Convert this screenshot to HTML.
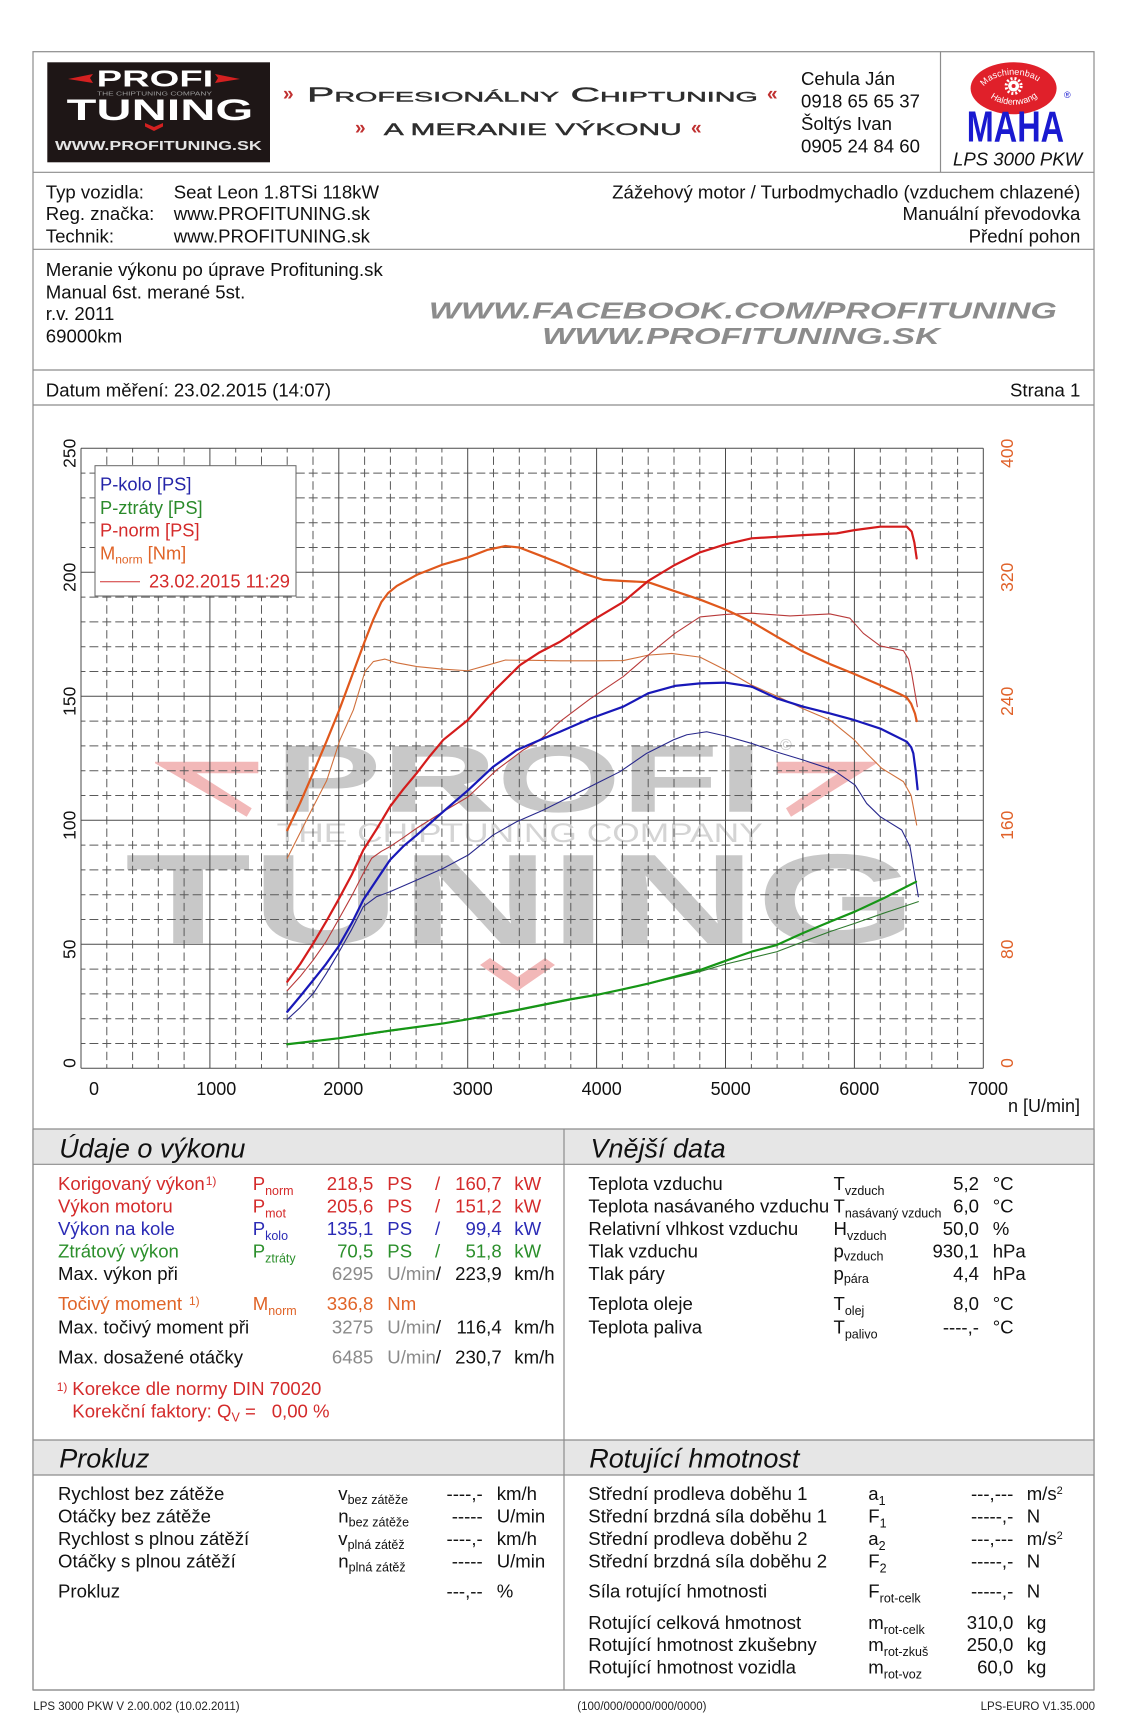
<!DOCTYPE html>
<html><head><meta charset="utf-8">
<style>
html,body{margin:0;padding:0;background:#fff;}
svg{display:block;}
text{font-family:"Liberation Sans",Arial,sans-serif;}
.t{font-size:18.6px;fill:#111;}
.ttl{font-size:27px;font-style:italic;fill:#111;}
.sub{font-size:12.5px;}
.ft{font-size:11.5px;fill:#222;}
</style></head>
<body>
<svg width="1130" height="1725" viewBox="0 0 1130 1725" xmlns="http://www.w3.org/2000/svg">
<rect x="0" y="0" width="1130" height="1725" fill="#fff"/>

<!-- ===== frame & section lines ===== -->
<g stroke="#8c8c8c" stroke-width="1.2" fill="none">
<rect x="33" y="51.7" width="1061" height="1638.3"/>
<line x1="33" y1="172.3" x2="1094" y2="172.3"/>
<line x1="33" y1="249.3" x2="1094" y2="249.3"/>
<line x1="33" y1="370" x2="1094" y2="370"/>
<line x1="33" y1="405" x2="1094" y2="405"/>
<line x1="940.5" y1="51.7" x2="940.5" y2="172.3"/>
</g>
<!-- section bands -->
<rect x="33" y="1129" width="1061" height="35.3" fill="#e6e6e6"/>
<rect x="33" y="1440" width="1061" height="35" fill="#e6e6e6"/>
<g stroke="#8c8c8c" stroke-width="1.2" fill="none">
<line x1="33" y1="1129" x2="1094" y2="1129"/>
<line x1="33" y1="1164.3" x2="1094" y2="1164.3"/>
<line x1="33" y1="1440" x2="1094" y2="1440"/>
<line x1="33" y1="1475" x2="1094" y2="1475"/>
<line x1="564" y1="1129" x2="564" y2="1690"/>
<line x1="33" y1="1690" x2="1094" y2="1690"/>
<line x1="33" y1="1129" x2="33" y2="1690"/>
<line x1="1094" y1="1129" x2="1094" y2="1690"/>
</g>

<!-- ===== header logo ===== -->
<rect x="47.3" y="62.3" width="222.7" height="100" fill="#1e1616"/>
<polygon points="68,79 93,74 90,78 93,83" fill="#d42020"/>
<polygon points="240,79 215,74 218,78 215,83" fill="#d42020"/>
<text x="96.7" y="86.7" font-size="23" font-weight="bold" fill="#fff" textLength="116.6" lengthAdjust="spacingAndGlyphs">PROFI</text>
<text x="97" y="95.5" font-size="5.5" fill="#9a9a9a" textLength="115" lengthAdjust="spacingAndGlyphs">THE CHIPTUNING COMPANY</text>
<text x="66.7" y="120" font-size="30" font-weight="bold" fill="#fff" textLength="186.6" lengthAdjust="spacingAndGlyphs">TUNING</text>
<polygon points="145,123 154,127 163,123 163,126.5 154,131 145,126.5" fill="#d42020"/>
<text x="55" y="150" font-size="12.5" font-weight="bold" fill="#e4e4e4" textLength="206.7" lengthAdjust="spacingAndGlyphs">WWW.PROFITUNING.SK</text>

<!-- header slogan -->
<text x="283" y="100" font-size="19" font-weight="bold" fill="#c03030">»</text>
<text x="307" y="101.7" font-size="20" fill="#2e2e2e" stroke="#2e2e2e" stroke-width="0.4" style="font-variant:small-caps" textLength="450.8" lengthAdjust="spacingAndGlyphs">Profesionálny Chiptuning</text>
<text x="767" y="100" font-size="19" font-weight="bold" fill="#c03030">«</text>
<text x="355" y="134" font-size="19" font-weight="bold" fill="#c03030">»</text>
<text x="383.8" y="135" font-size="17" fill="#2e2e2e" stroke="#2e2e2e" stroke-width="0.4" textLength="298" lengthAdjust="spacingAndGlyphs">A MERANIE VÝKONU</text>
<text x="691" y="134" font-size="19" font-weight="bold" fill="#c03030">«</text>

<!-- contact -->
<text class="t" x="801" y="85">Cehula Ján</text>
<text class="t" x="801" y="107.3">0918 65 65 37</text>
<text class="t" x="801" y="130">Šoltýs Ivan</text>
<text class="t" x="801" y="152.3">0905 24 84 60</text>

<!-- MAHA logo -->
<ellipse cx="1013.6" cy="88.3" rx="43" ry="26" fill="#e0202a"/>
<defs>
<path id="arcTop" d="M 981,92 A 33 21 0 0 1 1046,92"/>
<path id="arcBot" d="M 985,90 A 29 18 0 0 0 1042,90"/>
</defs>
<text font-size="9" fill="#fff"><textPath href="#arcTop" startOffset="8%">Maschinenbau</textPath></text>
<text font-size="9" fill="#fff"><textPath href="#arcBot" startOffset="14%">Haldenwang</textPath></text>
<circle cx="1013.6" cy="86" r="5.5" fill="#fff"/>
<circle cx="1013.6" cy="86" r="7.5" fill="none" stroke="#fff" stroke-width="3" stroke-dasharray="2 2"/>
<circle cx="1013.6" cy="86" r="2" fill="#e0202a"/>
<text x="966.8" y="141.7" font-size="44" font-weight="bold" fill="#1a1ad0" textLength="97.2" lengthAdjust="spacingAndGlyphs">MAHA</text>
<text x="1064" y="98" font-size="9" fill="#1a1ad0">®</text>
<text class="t" x="953" y="165.7" font-style="italic">LPS 3000 PKW</text>

<!-- vehicle info -->
<text class="t" x="45.8" y="198.3">Typ vozidla:</text>
<text class="t" x="173.7" y="198.3">Seat Leon 1.8TSi 118kW</text>
<text class="t" x="45.8" y="220">Reg. značka:</text>
<text class="t" x="173.7" y="220">www.PROFITUNING.sk</text>
<text class="t" x="45.8" y="242.3">Technik:</text>
<text class="t" x="173.7" y="242.3">www.PROFITUNING.sk</text>
<text class="t" x="1080.3" y="198.3" text-anchor="end">Zážehový motor / Turbodmychadlo (vzduchem chlazené)</text>
<text class="t" x="1080.3" y="220" text-anchor="end">Manuální převodovka</text>
<text class="t" x="1080.3" y="242.3" text-anchor="end">Přední pohon</text>

<!-- notes -->
<text class="t" x="45.8" y="276">Meranie výkonu po úprave Profituning.sk</text>
<text class="t" x="45.8" y="298.3">Manual 6st. merané 5st.</text>
<text class="t" x="45.8" y="320">r.v. 2011</text>
<text class="t" x="45.8" y="342.3">69000km</text>
<text x="428.8" y="318.3" font-size="23" font-weight="bold" font-style="italic" fill="#8c8c8c" textLength="628" lengthAdjust="spacingAndGlyphs">WWW.FACEBOOK.COM/PROFITUNING</text>
<text x="542" y="344" font-size="23" font-weight="bold" font-style="italic" fill="#8c8c8c" textLength="397.8" lengthAdjust="spacingAndGlyphs">WWW.PROFITUNING.SK</text>

<!-- datum -->
<text class="t" x="45.8" y="396.7">Datum měření: 23.02.2015 (14:07)</text>
<text class="t" x="1080.3" y="396.7" text-anchor="end">Strana 1</text>

<!-- ===== CHART ===== -->
<!-- watermark -->
<g>
<text x="275" y="811.7" font-size="95.5" font-weight="bold" fill="#c8c8c8" textLength="488" lengthAdjust="spacingAndGlyphs">PROFI</text>
<text x="780" y="750" font-size="16" fill="#c8c8c8">©</text>
<text x="276.7" y="842" font-size="26.5" fill="#d4d4d4" textLength="486" lengthAdjust="spacingAndGlyphs">THE CHIPTUNING COMPANY</text>
<text x="125" y="943.3" font-size="128" font-weight="bold" fill="#c8c8c8" textLength="792" lengthAdjust="spacingAndGlyphs">TUNING</text>
<polygon points="155,761.7 258.3,761.7 258.3,773.3 196.7,773.3 251.7,808.3 246.7,816.7 155,763.3" fill="#f2b8b8"/>
<polygon points="876.7,761.7 776.7,761.7 776.7,773.3 838,773.3 786,808.3 791,816.7 876.7,763.3" fill="#f2b8b8"/>
<polygon points="480,965 490,958 517.5,977 545,958 555,965 517.5,991" fill="#f2b8b8"/>
</g>

<!-- grid minor vertical (every 200 rpm) -->
<g stroke="#5a5a5a" stroke-width="1" stroke-dasharray="8.4 4" stroke-dashoffset="4.2" fill="none">
<path d="M106.8,448.3V1068.3M132.6,448.3V1068.3M158.3,448.3V1068.3M184.1,448.3V1068.3
M235.7,448.3V1068.3M261.5,448.3V1068.3M287.2,448.3V1068.3M313,448.3V1068.3
M364.6,448.3V1068.3M390.4,448.3V1068.3M416.1,448.3V1068.3M441.9,448.3V1068.3
M493.5,448.3V1068.3M519.3,448.3V1068.3M545.1,448.3V1068.3M570.8,448.3V1068.3
M622.4,448.3V1068.3M648.2,448.3V1068.3M674,448.3V1068.3M699.8,448.3V1068.3
M751.4,448.3V1068.3M777.1,448.3V1068.3M802.9,448.3V1068.3M828.7,448.3V1068.3
M880.3,448.3V1068.3M906,448.3V1068.3M931.8,448.3V1068.3M957.6,448.3V1068.3"/>
</g>
<!-- grid minor horizontal (every 10 PS) -->
<g stroke="#5a5a5a" stroke-width="1" stroke-dasharray="8.9 4" stroke-dashoffset="4.45" fill="none">
<path d="M81,1043.5H983.3M81,1018.7H983.3M81,993.9H983.3M81,969.1H983.3
M81,919.5H983.3M81,894.7H983.3M81,869.9H983.3M81,845.1H983.3
M81,795.5H983.3M81,770.7H983.3M81,745.9H983.3M81,721.1H983.3
M81,671.5H983.3M81,646.7H983.3M81,621.9H983.3M81,597.1H983.3
M81,547.5H983.3M81,522.7H983.3M81,497.9H983.3M81,473.1H983.3"/>
</g>
<!-- grid major -->
<g stroke="#4a4a4a" stroke-width="1" fill="none">
<path d="M81,448.3V1068.3M209.9,448.3V1068.3M338.8,448.3V1068.3M467.7,448.3V1068.3M596.6,448.3V1068.3M725.5,448.3V1068.3M854.4,448.3V1068.3M983.3,448.3V1068.3"/>
<path d="M81,448.3H983.3M81,572.3H983.3M81,696.3H983.3M81,820.3H983.3M81,944.3H983.3M81,1068.3H983.3"/>
</g>

<!-- curves -->
<g transform="matrix(0.128904 0 0 -2.48 81 1068.3)" fill="none" stroke-linejoin="round" stroke-linecap="round">
<!-- thin (comparison) -->
<polyline vector-effect="non-scaling-stroke" stroke="#d0703c" stroke-width="1.1" points="1600,84.7 1700,95 1802,105.5 1906,116 2009,132.4 2113,144.5 2203,160 2268,164 2358,165 2450,163.5 2606,162 2800,161 3000,160.3 3150,162.5 3290,164.6 3500,164.5 3716,164.3 4000,164.3 4206,164.4 4400,166.6 4582,167.3 4802,165.8 5000,160.6 5203,154.5 5400,150 5602,145 5810,140.4 6000,132.4 6095,127 6211,121 6380,115.6 6440,110 6483,98.1"/>
<polyline vector-effect="non-scaling-stroke" stroke="#b83a3a" stroke-width="1.1" points="1600,31.3 1700,37 1802,43.7 1900,51 1996,59.8 2100,69.5 2190,78.6 2255,84.7 2330,87.5 2397,89.4 2500,93 2604,96.8 2810,103.5 3004,109.5 3224,120.3 3430,128.3 3560,132.4 3716,139.8 3950,149 4206,157.9 4400,166.6 4608,175.4 4802,182 5000,183 5203,183.5 5500,182.4 5810,183.2 5965,181.5 6069,175.4 6200,170.3 6380,168.4 6420,165 6444,159.3 6488,145.8"/>
<polyline vector-effect="non-scaling-stroke" stroke="#28288c" stroke-width="1.1" points="1600,19.7 1700,24.5 1802,30.2 1900,38 1996,46.4 2100,56 2190,65.2 2293,69.2 2397,71.2 2604,75.9 2810,80.6 3004,86 3198,94.1 3379,99.4 3586,104.1 3793,109.5 4000,114.9 4181,119.6 4388,127 4594,132.4 4700,134.5 4854,135.7 5000,134 5203,131 5400,127.5 5602,124.3 5836,120.3 6005,114.2 6095,106.8 6199,101.5 6367,96.1 6431,89.4 6496,69.2"/>
<polyline vector-effect="non-scaling-stroke" stroke="#2f7a2f" stroke-width="1.1" points="1600,9.7 2000,12 2400,15 2800,18 3000,19.6 3400,23.4 3800,27.6 4200,31.7 4600,36.5 4802,39 5000,42 5200,44.5 5397,47 5600,51 5810,55.1 6005,58.5 6224,62.5 6496,67.2"/>
<!-- thick (current) -->
<polyline vector-effect="non-scaling-stroke" stroke="#e0581c" stroke-width="2.2" points="1600,96 1700,107 1800,119 1906,132 2000,144 2100,158 2200,172 2268,181 2330,188 2382,191.6 2450,194.5 2606,199 2800,203 3000,206 3150,209 3290,210.6 3400,210 3550,207 3716,203.6 3900,199.5 4050,197 4206,196.5 4400,196 4600,192.5 4802,189 5000,185 5203,180 5400,174 5602,168 5810,163 6000,159 6200,154.5 6350,151 6406,149.5 6440,147 6470,143 6483,140"/>
<polyline vector-effect="non-scaling-stroke" stroke="#d41c1c" stroke-width="2.2" points="1600,34.9 1700,42 1802,50.4 1900,59 1996,67.9 2100,78 2190,88 2300,97 2397,105.5 2500,112.5 2604,119 2700,125.5 2810,132.4 3000,140.4 3200,152 3406,162.6 3550,167.5 3716,172 3974,180.8 4206,188 4400,196.5 4608,203 4800,208 5000,211.3 5203,213.7 5400,214.3 5602,215 5862,215.7 6000,217 6200,218.4 6406,218.4 6444,216.4 6465,212 6483,205.6"/>
<polyline vector-effect="non-scaling-stroke" stroke="#1818b8" stroke-width="2.2" points="1600,22.8 1700,29 1802,35.6 1900,42 1996,49 2100,58.5 2190,67.9 2300,76.5 2397,84 2500,89.5 2604,94 2810,103.5 3004,112.2 3198,121.6 3379,128.3 3560,132.4 3716,135.7 3950,141 4206,145.8 4400,151.2 4608,154.2 4802,155.2 5000,155.5 5203,153.9 5396,149.2 5602,145.8 5810,143.1 6000,140.4 6200,137 6406,131.7 6440,129.5 6457,127 6475,120 6490,112.5"/>
<polyline vector-effect="non-scaling-stroke" stroke="#169616" stroke-width="2.2" points="1600,9.7 1996,12.1 2397,15.2 2810,18.1 3004,19.8 3379,23.5 3793,27.8 4000,29.6 4181,31.6 4414,34.3 4802,39.6 5009,43.5 5200,47 5397,49.7 5600,54.5 5810,59.1 6005,63.2 6224,68.5 6478,75.2"/>
</g>

<!-- legend -->
<rect x="95" y="465.7" width="201" height="130.3" fill="#fff" stroke="#666" stroke-width="1"/>
<text x="100" y="490.7" font-size="18.3" fill="#2424a8">P-kolo [PS]</text>
<text x="100" y="514" font-size="18.3" fill="#2a8a2a">P-ztráty [PS]</text>
<text x="100" y="536.7" font-size="18.3" fill="#d42a2a">P-norm [PS]</text>
<text x="100" y="559.3" font-size="18.3" fill="#e06428">M<tspan font-size="12" dy="4">norm</tspan><tspan dy="-4"> [Nm]</tspan></text>
<line x1="100" y1="581.7" x2="140" y2="581.7" stroke="#d03030" stroke-width="1"/>
<text x="149" y="587.7" font-size="18.3" fill="#d42a2a">23.02.2015 11:29</text>

<!-- axis labels left -->
<g font-size="17.5" fill="#111" text-anchor="middle">
<text transform="translate(75.6,1063) rotate(-90)">0</text>
<text transform="translate(75.6,949.3) rotate(-90)">50</text>
<text transform="translate(75.6,825.3) rotate(-90)">100</text>
<text transform="translate(75.6,701.3) rotate(-90)">150</text>
<text transform="translate(75.6,577.3) rotate(-90)">200</text>
<text transform="translate(75.6,453.3) rotate(-90)">250</text>
</g>
<g font-size="17.5" fill="#e0622a" text-anchor="middle">
<text transform="translate(1013,1063) rotate(-90)">0</text>
<text transform="translate(1013,949.3) rotate(-90)">80</text>
<text transform="translate(1013,825.3) rotate(-90)">160</text>
<text transform="translate(1013,701.3) rotate(-90)">240</text>
<text transform="translate(1013,577.3) rotate(-90)">320</text>
<text transform="translate(1013,453.3) rotate(-90)">400</text>
</g>
<g font-size="18" fill="#111" text-anchor="middle">
<text x="94" y="1095">0</text>
<text x="216.3" y="1095">1000</text>
<text x="343.3" y="1095">2000</text>
<text x="472.7" y="1095">3000</text>
<text x="601.7" y="1095">4000</text>
<text x="730.7" y="1095">5000</text>
<text x="859.3" y="1095">6000</text>
<text x="988" y="1095">7000</text>
</g>
<text x="1008" y="1112" font-size="18" fill="#111">n [U/min]</text>

<!-- ===== Údaje o výkonu ===== -->
<text class="ttl" x="59.3" y="1157.3">Údaje o výkonu</text>
<g font-size="18.6">
<text x="58" y="1190" fill="#d42b2b">Korigovaný výkon</text>
<text x="205.7" y="1185" font-size="12" fill="#d42b2b">1)</text>
<text x="252.7" y="1190" fill="#d42b2b">P<tspan class="sub" dy="5">norm</tspan></text>
<text x="373.3" y="1190" fill="#d42b2b" text-anchor="end">218,5</text>
<text x="387.3" y="1190" fill="#d42b2b">PS</text>
<text x="435" y="1190" fill="#d42b2b">/</text>
<text x="501.7" y="1190" fill="#d42b2b" text-anchor="end">160,7</text>
<text x="514.3" y="1190" fill="#d42b2b">kW</text>

<text x="58" y="1212.5" fill="#d42b2b">Výkon motoru</text>
<text x="252.7" y="1212.5" fill="#d42b2b">P<tspan class="sub" dy="5">mot</tspan></text>
<text x="373.3" y="1212.5" fill="#d42b2b" text-anchor="end">205,6</text>
<text x="387.3" y="1212.5" fill="#d42b2b">PS</text>
<text x="435" y="1212.5" fill="#d42b2b">/</text>
<text x="501.7" y="1212.5" fill="#d42b2b" text-anchor="end">151,2</text>
<text x="514.3" y="1212.5" fill="#d42b2b">kW</text>

<text x="58" y="1235" fill="#2b2bb5">Výkon na kole</text>
<text x="252.7" y="1235" fill="#2b2bb5">P<tspan class="sub" dy="5">kolo</tspan></text>
<text x="373.3" y="1235" fill="#2b2bb5" text-anchor="end">135,1</text>
<text x="387.3" y="1235" fill="#2b2bb5">PS</text>
<text x="435" y="1235" fill="#2b2bb5">/</text>
<text x="501.7" y="1235" fill="#2b2bb5" text-anchor="end">99,4</text>
<text x="514.3" y="1235" fill="#2b2bb5">kW</text>

<text x="58" y="1257.5" fill="#2b8f2b">Ztrátový výkon</text>
<text x="252.7" y="1257.5" fill="#2b8f2b">P<tspan class="sub" dy="5">ztráty</tspan></text>
<text x="373.3" y="1257.5" fill="#2b8f2b" text-anchor="end">70,5</text>
<text x="387.3" y="1257.5" fill="#2b8f2b">PS</text>
<text x="435" y="1257.5" fill="#2b8f2b">/</text>
<text x="501.7" y="1257.5" fill="#2b8f2b" text-anchor="end">51,8</text>
<text x="514.3" y="1257.5" fill="#2b8f2b">kW</text>

<text x="58" y="1280" fill="#111">Max. výkon při</text>
<text x="373.3" y="1280" fill="#8a8a8a" text-anchor="end">6295</text>
<text x="387.3" y="1280" fill="#8a8a8a">U/min<tspan fill="#111">/</tspan></text>
<text x="501.7" y="1280" fill="#111" text-anchor="end">223,9</text>
<text x="514.3" y="1280" fill="#111">km/h</text>

<text x="58" y="1310" fill="#e06428">Točivý moment</text>
<text x="189" y="1305" font-size="12" fill="#e06428">1)</text>
<text x="252.7" y="1310" fill="#e06428">M<tspan class="sub" dy="5">norm</tspan></text>
<text x="373.3" y="1310" fill="#e06428" text-anchor="end">336,8</text>
<text x="387.3" y="1310" fill="#e06428">Nm</text>

<text x="58" y="1333.3" fill="#111">Max. točivý moment při</text>
<text x="373.3" y="1333.3" fill="#8a8a8a" text-anchor="end">3275</text>
<text x="387.3" y="1333.3" fill="#8a8a8a">U/min<tspan fill="#111">/</tspan></text>
<text x="501.7" y="1333.3" fill="#111" text-anchor="end">116,4</text>
<text x="514.3" y="1333.3" fill="#111">km/h</text>

<text x="58" y="1363.3" fill="#111">Max. dosažené otáčky</text>
<text x="373.3" y="1363.3" fill="#8a8a8a" text-anchor="end">6485</text>
<text x="387.3" y="1363.3" fill="#8a8a8a">U/min<tspan fill="#111">/</tspan></text>
<text x="501.7" y="1363.3" fill="#111" text-anchor="end">230,7</text>
<text x="514.3" y="1363.3" fill="#111">km/h</text>

<text x="56.7" y="1391" font-size="12" fill="#d42b2b">1)</text>
<text x="72.3" y="1395" fill="#d42b2b">Korekce dle normy DIN 70020</text>
<text x="72.3" y="1417.7" fill="#d42b2b">Korekční faktory: Q<tspan class="sub" dy="4">V</tspan><tspan dy="-4"> =</tspan></text>
<text x="271.7" y="1417.7" fill="#d42b2b">0,00 %</text>
</g>

<!-- ===== Vnější data ===== -->
<text class="ttl" x="590.5" y="1157.3">Vnější data</text>
<g font-size="18.6" fill="#111">
<text x="588.4" y="1190">Teplota vzduchu</text>
<text x="833.5" y="1190">T<tspan class="sub" dy="5">vzduch</tspan></text>
<text x="979" y="1190" text-anchor="end">5,2</text>
<text x="992.7" y="1190">°C</text>

<text x="588.4" y="1212.5">Teplota nasávaného vzduchu</text>
<text x="833.5" y="1212.5">T<tspan class="sub" dy="5">nasávaný vzduch</tspan></text>
<text x="979" y="1212.5" text-anchor="end">6,0</text>
<text x="992.7" y="1212.5">°C</text>

<text x="588.4" y="1235">Relativní vlhkost vzduchu</text>
<text x="833.5" y="1235">H<tspan class="sub" dy="5">vzduch</tspan></text>
<text x="979" y="1235" text-anchor="end">50,0</text>
<text x="992.7" y="1235">%</text>

<text x="588.4" y="1257.5">Tlak vzduchu</text>
<text x="833.5" y="1257.5">p<tspan class="sub" dy="3">vzduch</tspan></text>
<text x="979" y="1257.5" text-anchor="end">930,1</text>
<text x="992.7" y="1257.5">hPa</text>

<text x="588.4" y="1280">Tlak páry</text>
<text x="833.5" y="1280">p<tspan class="sub" dy="3">pára</tspan></text>
<text x="979" y="1280" text-anchor="end">4,4</text>
<text x="992.7" y="1280">hPa</text>

<text x="588.4" y="1310">Teplota oleje</text>
<text x="833.5" y="1310">T<tspan class="sub" dy="5">olej</tspan></text>
<text x="979" y="1310" text-anchor="end">8,0</text>
<text x="992.7" y="1310">°C</text>

<text x="588.4" y="1333.3">Teplota paliva</text>
<text x="833.5" y="1333.3">T<tspan class="sub" dy="5">palivo</tspan></text>
<text x="979" y="1333.3" text-anchor="end">----,-</text>
<text x="992.7" y="1333.3">°C</text>
</g>

<!-- ===== Prokluz ===== -->
<text class="ttl" x="59.3" y="1467.3">Prokluz</text>
<g font-size="18.6" fill="#111">
<text x="58" y="1500">Rychlost bez zátěže</text>
<text x="338.3" y="1500">v<tspan class="sub" dy="4">bez zátěže</tspan></text>
<text x="482.7" y="1500" text-anchor="end">----,-</text>
<text x="496.7" y="1500">km/h</text>

<text x="58" y="1522.3">Otáčky bez zátěže</text>
<text x="338.3" y="1522.3">n<tspan class="sub" dy="4">bez zátěže</tspan></text>
<text x="482.7" y="1522.3" text-anchor="end">-----</text>
<text x="496.7" y="1522.3">U/min</text>

<text x="58" y="1545">Rychlost s plnou zátěží</text>
<text x="338.3" y="1545">v<tspan class="sub" dy="4">plná zátěž</tspan></text>
<text x="482.7" y="1545" text-anchor="end">----,-</text>
<text x="496.7" y="1545">km/h</text>

<text x="58" y="1567.3">Otáčky s plnou zátěží</text>
<text x="338.3" y="1567.3">n<tspan class="sub" dy="4">plná zátěž</tspan></text>
<text x="482.7" y="1567.3" text-anchor="end">-----</text>
<text x="496.7" y="1567.3">U/min</text>

<text x="58" y="1597.7">Prokluz</text>
<text x="482.7" y="1597.7" text-anchor="end">---,--</text>
<text x="496.7" y="1597.7">%</text>
</g>

<!-- ===== Rotující hmotnost ===== -->
<text class="ttl" x="589.3" y="1467.3">Rotující hmotnost</text>
<g font-size="18.6" fill="#111">
<text x="588.3" y="1500">Střední prodleva doběhu 1</text>
<text x="868.3" y="1500">a<tspan class="sub" dy="5">1</tspan></text>
<text x="1013.3" y="1500" text-anchor="end">---,---</text>
<text x="1026.7" y="1500">m/s<tspan font-size="11" dy="-6">2</tspan></text>

<text x="588.3" y="1522.3">Střední brzdná síla doběhu 1</text>
<text x="868.3" y="1522.3">F<tspan class="sub" dy="5">1</tspan></text>
<text x="1013.3" y="1522.3" text-anchor="end">-----,-</text>
<text x="1026.7" y="1522.3">N</text>

<text x="588.3" y="1545">Střední prodleva doběhu 2</text>
<text x="868.3" y="1545">a<tspan class="sub" dy="5">2</tspan></text>
<text x="1013.3" y="1545" text-anchor="end">---,---</text>
<text x="1026.7" y="1545">m/s<tspan font-size="11" dy="-6">2</tspan></text>

<text x="588.3" y="1567.3">Střední brzdná síla doběhu 2</text>
<text x="868.3" y="1567.3">F<tspan class="sub" dy="5">2</tspan></text>
<text x="1013.3" y="1567.3" text-anchor="end">-----,-</text>
<text x="1026.7" y="1567.3">N</text>

<text x="588.3" y="1597.7">Síla rotující hmotnosti</text>
<text x="868.3" y="1597.7">F<tspan class="sub" dy="5">rot-celk</tspan></text>
<text x="1013.3" y="1597.7" text-anchor="end">-----,-</text>
<text x="1026.7" y="1597.7">N</text>

<text x="588.3" y="1629">Rotující celková hmotnost</text>
<text x="868.3" y="1629">m<tspan class="sub" dy="5">rot-celk</tspan></text>
<text x="1013.3" y="1629" text-anchor="end">310,0</text>
<text x="1026.7" y="1629">kg</text>

<text x="588.3" y="1651">Rotující hmotnost zkušebny</text>
<text x="868.3" y="1651">m<tspan class="sub" dy="5">rot-zkuš</tspan></text>
<text x="1013.3" y="1651" text-anchor="end">250,0</text>
<text x="1026.7" y="1651">kg</text>

<text x="588.3" y="1673.3">Rotující hmotnost vozidla</text>
<text x="868.3" y="1673.3">m<tspan class="sub" dy="5">rot-voz</tspan></text>
<text x="1013.3" y="1673.3" text-anchor="end">60,0</text>
<text x="1026.7" y="1673.3">kg</text>
</g>

<!-- footer -->
<text class="ft" x="33.3" y="1710">LPS 3000 PKW V 2.00.002 (10.02.2011)</text>
<text class="ft" x="577.3" y="1710">(100/000/0000/000/0000)</text>
<text class="ft" x="1095" y="1710" text-anchor="end">LPS-EURO V1.35.000</text>
</svg>
</body></html>
